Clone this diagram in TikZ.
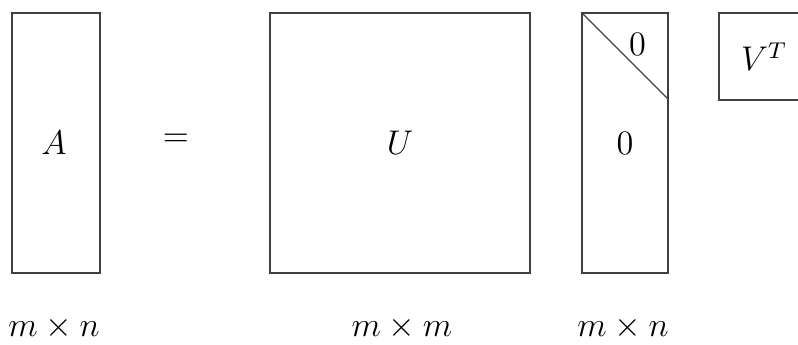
\documentclass[tikz,border=0pt]{standalone}
\begin{document}
\begin{tikzpicture}[x=0.35pt,y=-0.35pt,
  mat/.style={draw=black!75,line width=0.45pt},
  txt/.style={inner sep=0pt,font=\large}]
\clip (0,0) rectangle (798,345);
\useasboundingbox (0,0) rectangle (798,345);
% A
\draw[mat] (12,13) rectangle (100,273);
\node[txt] (A) at (54,143) {$A$};
\node[txt] (eq) at (176,140) {$=$};
% U
\draw[mat] (270,13) rectangle (530,273);
\node[txt] (U) at (400,143) {$U$};
% Sigma
\draw[mat] (582,13) rectangle (668,273);
\draw[mat] (582,13) -- (668,99);
\node[txt] (z1) at (637.5,44) {$0$};
\node[txt] (z2) at (625,143) {$0$};
% V^T
\draw[mat] (719,13) rectangle (806,100);
\node[txt,anchor=base] (V) at (764,71) {$V^T$};
% dims
\node[txt,anchor=base] (d1) at (54,336) {$m\times n$};
\node[txt,anchor=base] (d2) at (402,336) {$m\times m$};
\node[txt,anchor=base] (d3) at (623,336) {$m\times n$};
\end{tikzpicture}
\end{document}
